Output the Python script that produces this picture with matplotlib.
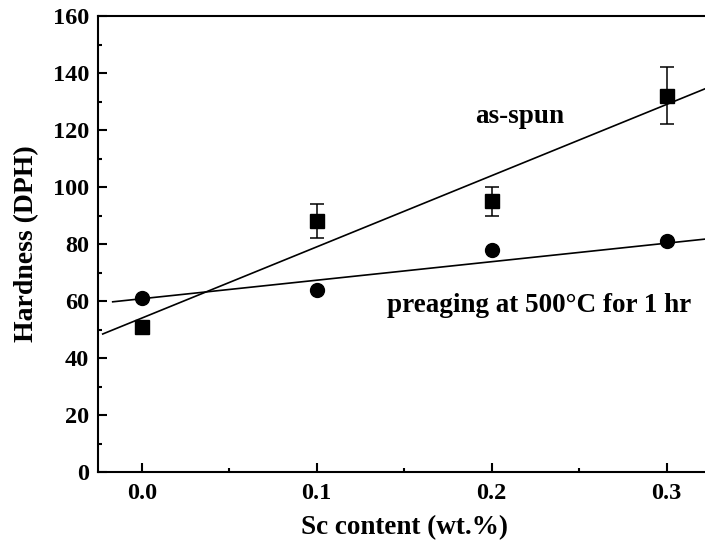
import numpy as np
import matplotlib
matplotlib.use("Agg")
import matplotlib.pyplot as plt

plt.rcParams['font.family'] = ['Liberation Serif', 'DejaVu Serif']
plt.rcParams['font.weight'] = 'bold'

# data
sc = [0.0, 0.1, 0.2, 0.3]
hv_spun = [51, 88, 95, 132]
err_spun = [1, 6, 5, 10]
hv_preaged = [61, 64, 78, 81]
err_preaged = [1, 1, 1, 1]

# linear fits as drawn (intercept, slope, start x)
fit_spun = (54.0, 250.0, -0.0223)
fit_preaged = (60.8, 65.0, -0.0166)

fig = plt.figure(figsize=(7.05, 5.47), dpi=100)
ax = fig.add_axes([0.139, 0.1371, 0.8688, 0.8336])

ax.errorbar(sc, hv_spun, yerr=err_spun, fmt='s', color='black', markersize=9.5,
            capsize=4.7, elinewidth=1.1, capthick=1.1)
ax.errorbar(sc, hv_preaged, yerr=err_preaged, fmt='o', color='black', markersize=10,
            capsize=3, elinewidth=1.1, capthick=1.1)

for b, m, x0 in (fit_spun, fit_preaged):
    xx = np.array([x0, 0.33])
    ax.plot(xx, b + m * xx, '-', color='black', lw=1.2)

ax.text(0.1904, 122.6, 'as-spun', fontsize=19.5, fontweight='bold', va='baseline')
ax.text(0.1401, 56.2, 'preaging at 500\u00b0C for 1 hr', fontsize=19.5,
        fontweight='bold', va='baseline')

ax.set_xlim(-0.025, 0.325)
ax.set_ylim(0, 160)
ax.set_xticks([0.0, 0.1, 0.2, 0.3])
ax.set_xticks([0.05, 0.15, 0.25], minor=True)
ax.set_xticklabels(['0.0', '0.1', '0.2', '0.3'])
ax.set_yticks(np.arange(0, 161, 20))
ax.set_yticks(np.arange(10, 160, 20), minor=True)

ax.tick_params(which='both', direction='in', width=1.5, labelsize=17.5)
ax.tick_params(which='major', length=6.7)
ax.tick_params(which='minor', length=3.2)
ax.tick_params(axis='x', pad=8)
ax.tick_params(axis='y', pad=6.5)
for s in ax.spines.values():
    s.set_linewidth(1.5)

ax.set_xlabel('Sc content (wt.%)', fontsize=19.5, fontweight='bold', labelpad=8)
ax.set_ylabel('Hardness (DPH)', fontsize=20, fontweight='bold', labelpad=10)

fig.savefig('out.png', dpi=100)
